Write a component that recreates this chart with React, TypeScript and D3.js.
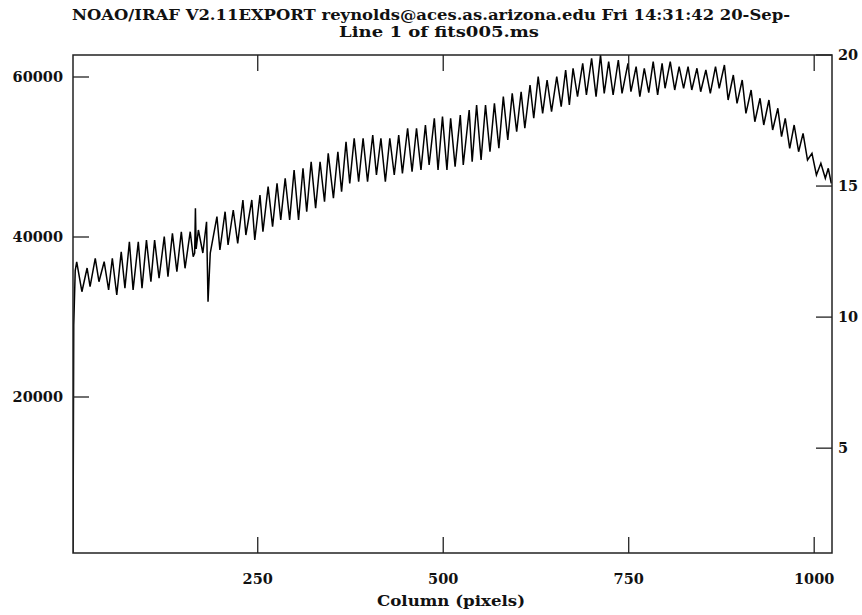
import React from "react";
import * as d3 from "d3";

const titleLine1 = "NOAO/IRAF V2.11EXPORT reynolds@aces.as.arizona.edu Fri 14:31:42 20-Sep-";
const titleLine2 = "Line 1 of fits005.ms";
const xLabel = "Column (pixels)";

const xTicks = [250, 500, 750, 1000];
const yLeftTicks = [20000, 40000, 60000];
const yRightTicks = [5, 10, 15, 20];

const columns = [
  1, 2, 4, 6, 13, 20, 24, 31, 36, 43,
  49, 54, 60, 66, 71, 77, 82, 89, 94, 100,
  106, 111, 117, 124, 129, 135, 141, 147, 152, 159,
  163, 165, 166, 167, 170, 176, 181, 183, 186, 195,
  199, 206, 210, 217, 223, 230, 234, 242, 246, 253,
  257, 264, 270, 276, 281, 287, 293, 299, 305, 311,
  316, 322, 328, 334, 340, 345, 352, 358, 363, 369,
  374, 380, 386, 392, 398, 405, 410, 416, 422, 428,
  434, 440, 445, 452, 458, 464, 470, 476, 481, 488,
  493, 499, 505, 510, 516, 523, 527, 535, 539, 545,
  551, 557, 563, 569, 575, 581, 587, 593, 599, 605,
  610, 617, 622, 628, 634, 640, 646, 653, 659, 665,
  670, 675, 681, 688, 693, 700, 706, 712, 717, 723,
  729, 736, 741, 749, 753, 760, 765, 771, 777, 783,
  789, 795, 799, 806, 812, 818, 824, 830, 835, 842,
  847, 854, 860, 867, 872, 879, 884, 891, 896, 903,
  908, 915, 920, 927, 932, 939, 944, 951, 956, 961,
  967, 973, 979, 985, 991, 997, 1003, 1009, 1015, 1019,
  1023,
];

const counts = [
  100, 29000, 35800, 36900, 33160, 36125, 33790, 37340, 34410, 36910,
  33375, 37340, 32750, 38160, 33590, 39410, 33375, 39410, 33590, 39625,
  34410, 39625, 34840, 40040, 35040, 40460, 35660, 40660, 36090, 40660,
  37540, 38000, 43600, 38500, 40875, 38000, 41910, 31910, 38000, 42540,
  38375, 43160, 39000, 43375, 39210, 44625, 40250, 44625, 39625, 45250,
  40660, 46290, 41290, 46710, 42125, 47340, 42125, 48375, 42125, 48590,
  43160, 49410, 43590, 49410, 44410, 50460, 44840, 50660, 45660, 51910,
  46710, 52340, 46910, 52340, 46910, 52750, 47750, 52340, 46910, 52340,
  47750, 52750, 47960, 53590, 48160, 53590, 48375, 54000, 49000, 54840,
  48375, 55040, 48375, 54840, 48790, 55250, 49000, 55875, 49410, 56500,
  49625, 56500, 50660, 56710, 51090, 57540, 52125, 57960, 53160, 58160,
  53590, 59000, 54840, 60040, 55460, 59625, 55660, 60040, 56290, 60875,
  56500, 61090, 57540, 61710, 57750, 62340, 57540, 62750, 57960, 61910,
  57750, 62125, 57960, 61700, 58160, 61290, 57540, 61090, 58060, 61910,
  57750, 61710, 58590, 61910, 58375, 61290, 58590, 61290, 58375, 61090,
  58160, 60875, 57960, 61290, 58590, 61500, 57125, 60250, 56710, 59625,
  55460, 58375, 54410, 57340, 54000, 57125, 53375, 56090, 52540, 54840,
  51090, 54000, 50660, 52960, 49625, 50460, 47750, 49210, 47340, 48590,
  46710,
];

const FONT = "'DejaVu Serif', serif";

export default function App() {
  const W = 862;
  const H = 615;
  const L = 73, R = 832, T = 55, B = 553;
  const x = d3.scaleLinear().domain([1, 1024]).range([L, R]);
  const y = d3.scaleLinear().domain([500, 62750]).range([B, T]);
  const y2 = d3.scaleLinear().domain([1, 20]).range([B, T]);
  const line = d3
    .line<number>()
    .x((_, i) => x(columns[i]))
    .y((d) => y(d));
  const tickLen = 16;

  return (
    <svg
      width={W}
      height={H}
      style={{ position: "absolute", left: 0, top: 0, background: "#fff" }}
    >
      <rect x={0} y={0} width={W} height={H} fill="#fff" />
      <defs>
        <clipPath id="plotclip">
          <rect x={L} y={T} width={R - L} height={B - T} />
        </clipPath>
      </defs>
      <text x={72} y={20} fontFamily={FONT} fontWeight="bold" fontSize={14} textLength={718} lengthAdjust="spacingAndGlyphs" fill="#111">
        {titleLine1}
      </text>
      <text x={439} y={37} textAnchor="middle" fontFamily={FONT} fontWeight="bold" fontSize={14} textLength={200} lengthAdjust="spacingAndGlyphs" fill="#111">
        {titleLine2}
      </text>

      <path d={line(counts) || ""} fill="none" stroke="#000" strokeWidth={1.5} strokeLinejoin="miter" clipPath="url(#plotclip)" />

      <rect x={L} y={T} width={R - L} height={B - T} fill="none" stroke="#222" strokeWidth={1.5} />

      {yLeftTicks.map((t) => (
        <g key={"yl" + t}>
          <line x1={L} x2={L + tickLen} y1={y(t)} y2={y(t)} stroke="#222" strokeWidth={1.3} />
          <text x={63} y={y(t) + 5} textAnchor="end" fontFamily={FONT} fontWeight="bold" fontSize={14.5} fill="#111">
            {t}
          </text>
        </g>
      ))}
      {yRightTicks.map((t) => (
        <g key={"yr" + t}>
          <line x1={R - tickLen} x2={R} y1={y2(t)} y2={y2(t)} stroke="#222" strokeWidth={1.3} />
          <text x={838} y={y2(t) + 5} textAnchor="start" fontFamily={FONT} fontWeight="bold" fontSize={14.5} fill="#111">
            {t}
          </text>
        </g>
      ))}
      {xTicks.map((t) => (
        <g key={"x" + t}>
          <line x1={x(t)} x2={x(t)} y1={B} y2={B - tickLen} stroke="#222" strokeWidth={1.3} />
          <line x1={x(t)} x2={x(t)} y1={T} y2={T + tickLen} stroke="#222" strokeWidth={1.3} />
          <text x={x(t)} y={584} textAnchor="middle" fontFamily={FONT} fontWeight="bold" fontSize={14.5} fill="#111">
            {t}
          </text>
        </g>
      ))}
      <text x={451} y={606} textAnchor="middle" fontFamily={FONT} fontWeight="bold" fontSize={14.5} textLength={148} lengthAdjust="spacingAndGlyphs" fill="#111">
        {xLabel}
      </text>
    </svg>
  );
}
